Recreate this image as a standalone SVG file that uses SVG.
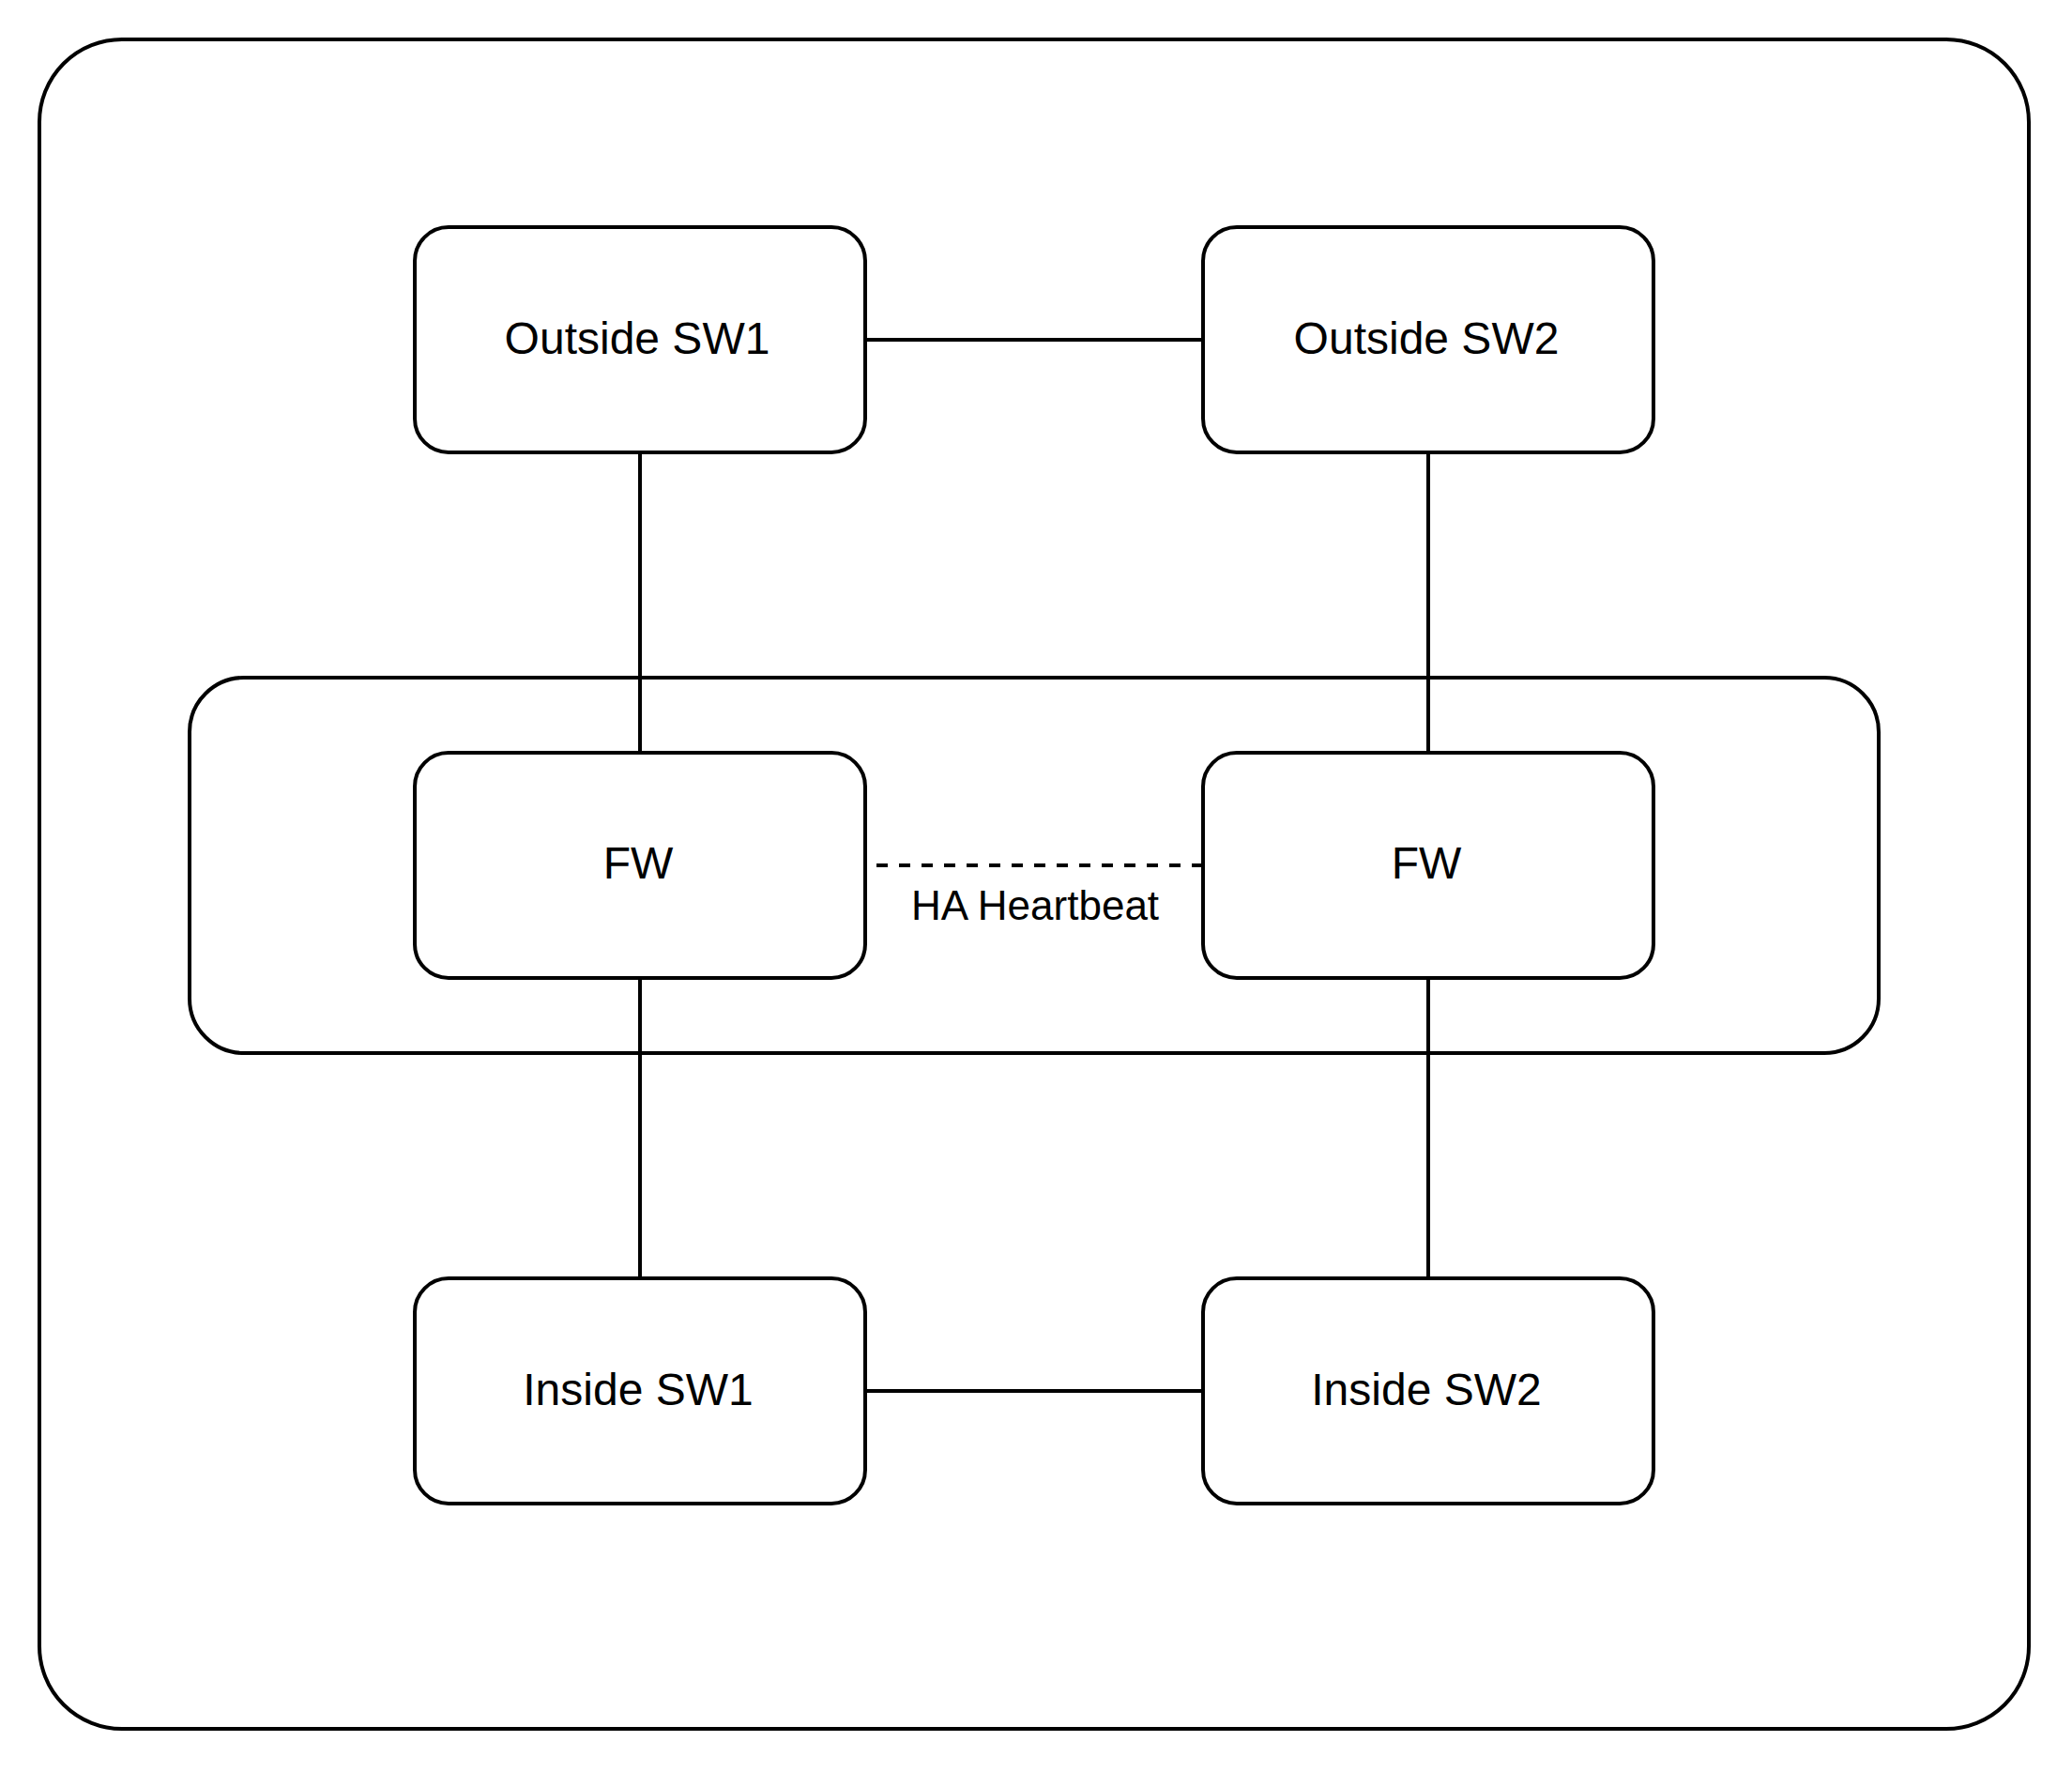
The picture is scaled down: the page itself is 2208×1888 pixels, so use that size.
<svg xmlns="http://www.w3.org/2000/svg" width="2208" height="1888" viewBox="0 0 2208 1888">
  <style>
    .box { fill: #ffffff; stroke: #000000; stroke-width: 4; }
    .container { fill: none; stroke: #000000; stroke-width: 4; }
    .link { stroke: #000000; stroke-width: 4; fill: none; }
    .dashed { stroke-dasharray: 12 12; stroke-dashoffset: 12; }
    .label { font-family: "Liberation Sans", Arial, Helvetica, sans-serif; font-size: 48px; fill: #000000; text-anchor: middle; }
    .edge-label { font-family: "Liberation Sans", Arial, Helvetica, sans-serif; font-size: 44px; fill: #000000; text-anchor: middle; }
  </style>
  <rect x="0" y="0" width="2208" height="1888" fill="#ffffff"/>

  <g id="outer-container">
    <rect class="container" x="42" y="42" width="2120" height="1800" rx="88" ry="88"/>
  </g>
  <g id="fw-cluster">
    <rect class="container" x="202" y="722" width="1800" height="400" rx="58" ry="58"/>
  </g>

  <g id="connectors">
    <line class="link" x1="922" y1="362" x2="1282" y2="362"/>
    <line class="link" x1="682" y1="482" x2="682" y2="802"/>
    <line class="link" x1="1522" y1="482" x2="1522" y2="802"/>
    <line class="link" x1="682" y1="1042" x2="682" y2="1362"/>
    <line class="link" x1="1522" y1="1042" x2="1522" y2="1362"/>
    <line class="link" x1="922" y1="1482" x2="1282" y2="1482"/>
    <line class="link dashed" x1="922" y1="922" x2="1282" y2="922"/>
    <text class="edge-label" x="1103" y="980">HA Heartbeat</text>
  </g>

  <g id="outside-sw1">
    <rect class="box" x="442" y="242" width="480" height="240" rx="36" ry="36"/>
    <text class="label" x="679" y="377">Outside SW1</text>
  </g>
  <g id="outside-sw2">
    <rect class="box" x="1282" y="242" width="480" height="240" rx="36" ry="36"/>
    <text class="label" x="1520" y="377">Outside SW2</text>
  </g>
  <g id="fw1">
    <rect class="box" x="442" y="802" width="480" height="240" rx="36" ry="36"/>
    <text class="label" x="680" y="936">FW</text>
  </g>
  <g id="fw2">
    <rect class="box" x="1282" y="802" width="480" height="240" rx="36" ry="36"/>
    <text class="label" x="1520" y="936">FW</text>
  </g>
  <g id="inside-sw1">
    <rect class="box" x="442" y="1362" width="480" height="240" rx="36" ry="36"/>
    <text class="label" x="680" y="1497">Inside SW1</text>
  </g>
  <g id="inside-sw2">
    <rect class="box" x="1282" y="1362" width="480" height="240" rx="36" ry="36"/>
    <text class="label" x="1520" y="1497">Inside SW2</text>
  </g>
</svg>
